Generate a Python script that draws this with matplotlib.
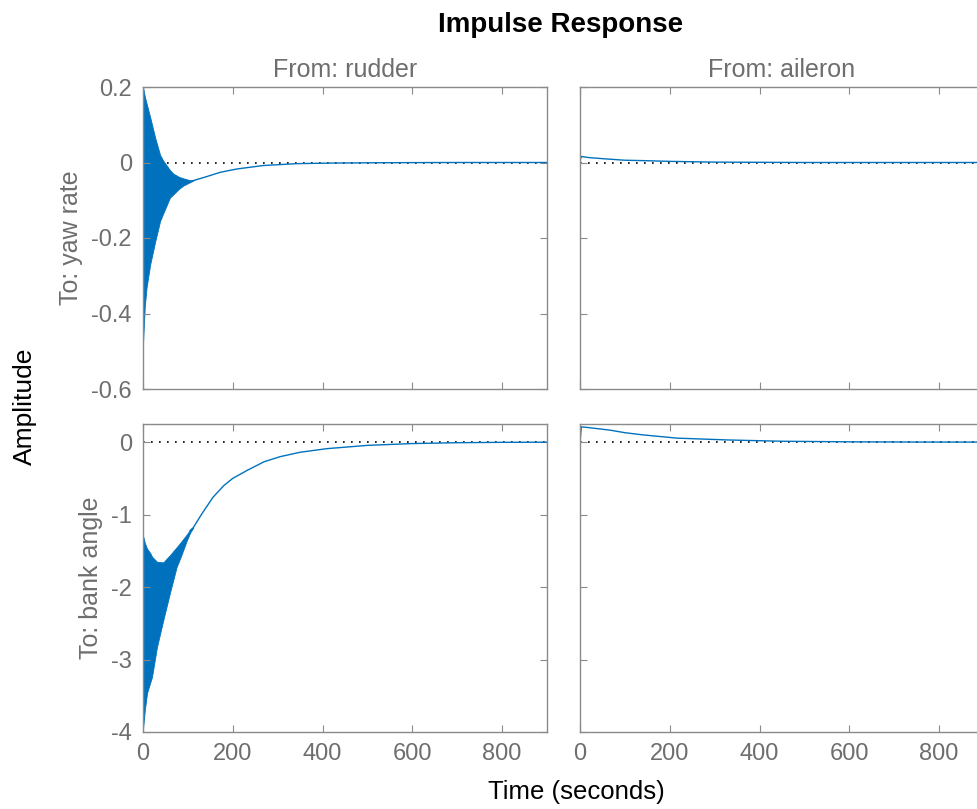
import numpy as np
import matplotlib
matplotlib.use("Agg")
import matplotlib.pyplot as plt

plt.rcParams['font.family'] = ['Liberation Sans', 'DejaVu Sans']

# --- data ---
# yaw rate <- rudder: envelope of the fast oscillation, then the slow tail
yaw_rud_env_t = [0, 4, 8, 16, 27, 38, 45, 60, 67, 80, 90, 105, 112]
yaw_rud_env_hi = [0.2, 0.175, 0.156, 0.12, 0.066, 0.02, 0.005, -0.02, -0.029, -0.038, -0.042, -0.047, -0.048]
yaw_rud_env_lo = [-0.48, -0.38, -0.33, -0.27, -0.21, -0.155, -0.135, -0.093, -0.085, -0.07, -0.061, -0.052, -0.048]
yaw_rud_t = [105, 112, 140, 172, 210, 268, 343, 420, 500, 600, 700, 900]
yaw_rud_y = [-0.05, -0.048, -0.038, -0.026, -0.017, -0.008, -0.003, -0.0015, -0.0008, -0.0003, 0.0, 0.0]

# bank angle <- rudder
bank_rud_env_t = [0.5, 4, 9, 16, 20, 31, 45, 60, 75, 83, 98, 105, 112]
bank_rud_env_hi = [-1.3, -1.39, -1.47, -1.53, -1.58, -1.65, -1.66, -1.56, -1.45, -1.39, -1.27, -1.21, -1.18]
bank_rud_env_lo = [-3.93, -3.7, -3.46, -3.32, -3.24, -2.83, -2.46, -2.08, -1.72, -1.6, -1.35, -1.25, -1.18]
bank_rud_start_t = [0, 0.5]
bank_rud_start_y = [0, -1.3]
bank_rud_t = [105, 112, 130, 156, 180, 200, 232, 270, 306, 350, 410, 500, 600, 700, 800, 900]
bank_rud_y = [-1.22, -1.18, -1.0, -0.76, -0.6, -0.5, -0.39, -0.27, -0.2, -0.14, -0.09, -0.045, -0.02, -0.008, -0.003, -0.001]

# yaw rate <- aileron
yaw_ail_t = [0, 3, 20, 52, 100, 140, 200, 300, 500, 900]
yaw_ail_y = [0.005, 0.016, 0.013, 0.01, 0.006, 0.005, 0.003, 0.001, 0.0, 0.0]

# bank angle <- aileron
bank_ail_t = [0, 3, 20, 67, 100, 140, 216, 328, 450, 600, 750, 900]
bank_ail_y = [0.0, 0.21, 0.2, 0.165, 0.13, 0.1, 0.055, 0.03, 0.012, 0.004, 0.001, 0.0]

x_ticks = [0, 200, 400, 600, 800]
yaw_ticks = [-0.6, -0.4, -0.2, 0, 0.2]
yaw_labels = ['-0.6', '-0.4', '-0.2', '0', '0.2']
bank_ticks = [-4, -3, -2, -1, 0]
bank_labels = ['-4', '-3', '-2', '-1', '0']
inputs = ["From: rudder", "From: aileron"]
outputs = ["To: yaw rate", "To: bank angle"]

blue = '#0072BD'
spine_c = '#8a8a8a'
label_c = '#6e6e6e'

fig = plt.figure(figsize=(9.77, 8.09), dpi=100)
W, H = 977, 809


def px_axes(x0, y0, x1, y1):
    return fig.add_axes([x0 / W, 1 - y1 / H, (x1 - x0) / W, (y1 - y0) / H])


ax_tl = px_axes(143, 87, 547, 389)
ax_tr = px_axes(580, 87, 984, 389)
ax_bl = px_axes(143, 424, 547, 732)
ax_br = px_axes(580, 424, 984, 732)

ax_tl.fill_between(yaw_rud_env_t, yaw_rud_env_lo, yaw_rud_env_hi, color=blue, lw=0.6)
ax_tl.plot(yaw_rud_t, yaw_rud_y, color=blue, lw=1.0)
ax_bl.fill_between(bank_rud_env_t, bank_rud_env_lo, bank_rud_env_hi, color=blue, lw=0.6)
ax_bl.plot(bank_rud_start_t, bank_rud_start_y, color=blue, lw=1.0)
ax_bl.plot(bank_rud_t, bank_rud_y, color=blue, lw=1.0)
ax_tr.plot(yaw_ail_t, yaw_ail_y, color=blue, lw=1.0)
ax_br.plot(bank_ail_t, bank_ail_y, color=blue, lw=1.0)

for ax in [ax_tl, ax_tr, ax_bl, ax_br]:
    ax.axhline(0, color='black', ls=(0, (1, 3.8)), lw=1.2, zorder=0)
    ax.set_xlim(0, 900)
    ax.set_xticks(x_ticks)
    ax.tick_params(direction='in', length=5, width=0.8, colors=spine_c,
                   labelcolor=label_c, labelsize=17, top=True, right=True, pad=8)
    for s in ax.spines.values():
        s.set_color(spine_c)
        s.set_linewidth(1.0)

for ax in [ax_tl, ax_tr]:
    ax.set_ylim(-0.6, 0.2)
    ax.set_yticks(yaw_ticks)
    ax.set_yticklabels(yaw_labels)
    ax.tick_params(labelbottom=False)
for ax in [ax_bl, ax_br]:
    ax.set_ylim(-4, 0.25)
    ax.set_yticks(bank_ticks)
    ax.set_yticklabels(bank_labels)
for ax in [ax_tr, ax_br]:
    ax.tick_params(labelleft=False)

ax_tl.set_title(inputs[0], color=label_c, fontsize=18, pad=7)
ax_tr.set_title(inputs[1], color=label_c, fontsize=18, pad=7)
ax_tl.set_ylabel(outputs[0], color=label_c, fontsize=18, labelpad=6)
ax_bl.set_ylabel(outputs[1], color=label_c, fontsize=18, labelpad=6)

fig.text(561 / W, 1 - 25 / H, "Impulse Response", ha='center', va='center',
         fontsize=20, fontweight='bold', color='black')
fig.text(25 / W, 1 - 406 / H, "Amplitude", ha='center', va='center',
         rotation=90, fontsize=19, color='black')
fig.text(576 / W, 1 - 792 / H, "Time (seconds)", ha='center', va='center',
         fontsize=18.5, color='black')

fig.savefig('out.png', dpi=100)
